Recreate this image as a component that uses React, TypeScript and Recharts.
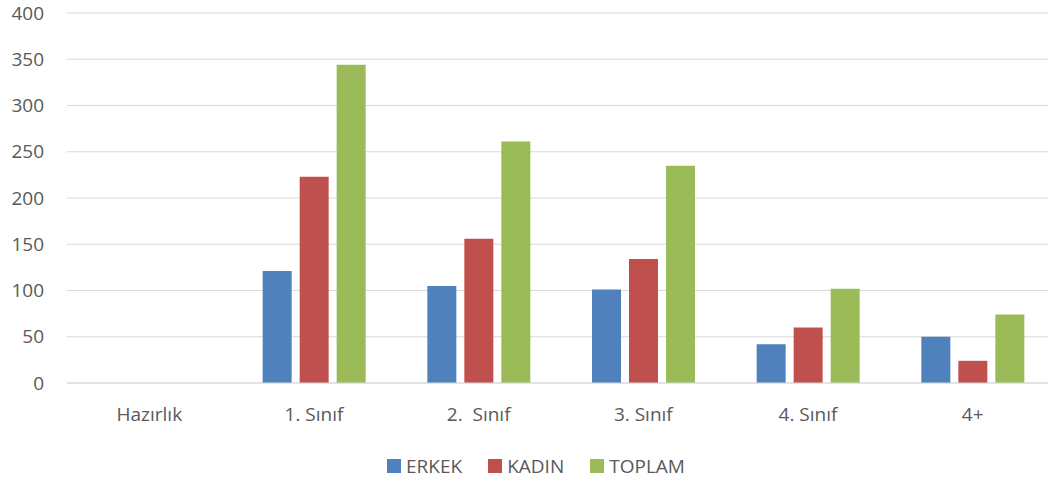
import { BarChart, Bar, XAxis, YAxis, CartesianGrid, Legend } from "recharts";

const categories = ["Hazırlık", "1. Sınıf", "2.  Sınıf", "3. Sınıf", "4. Sınıf", "4+"];
const erkek = [0, 121, 105, 101, 42, 50];
const kadin = [0, 223, 156, 134, 60, 24];
const toplam = [0, 344, 261, 235, 102, 74];
const yTicks = [0, 50, 100, 150, 200, 250, 300, 350, 400];

const data = categories.map((name, i) => ({
  name,
  ERKEK: erkek[i],
  KADIN: kadin[i],
  TOPLAM: toplam[i],
}));

const font = "'Open Sans', sans-serif";
const textColor = "#595959";

function LegendBox(props: any) {
  const items = props.payload || [];
  return (
    <div style={{ display: "flex", justifyContent: "center", alignItems: "center", fontSize: 19, color: textColor, height: 26 }}>
      {items.map((it: any, i: number) => (
        <div key={it.value} style={{ display: "flex", alignItems: "center", marginRight: i < items.length - 1 ? 26 : 0 }}>
          <span style={{ width: 14, height: 14, background: it.color, display: "inline-block", marginRight: 5 }} />
          <span>{it.value}</span>
        </div>
      ))}
    </div>
  );
}

export default function App() {
  return (
    <div style={{ position: "absolute", left: 0, top: 0, background: "#fff", overflow: "hidden", width: 1048, height: 487 }}>
      <BarChart
        width={1048}
        height={487}
        data={data}
        margin={{ top: 13, right: -7, left: 0, bottom: 12 }}
        barSize={29}
        barGap={8}
        style={{ fontFamily: font }}
      >
        <CartesianGrid vertical={false} stroke="#d9d9d9" strokeWidth={1.2} />
        <XAxis
          dataKey="name"
          height={52}
          tickLine={false}
          axisLine={{ stroke: "#d9d9d9", strokeWidth: 1.2 }}
          tickMargin={19}
          tickFormatter={(v: string) => v.replace(/  /g, " \u00a0")}
          tick={{ fontSize: 19, fill: textColor }}
        />
        <YAxis
          width={67}
          domain={[0, 400]}
          ticks={yTicks}
          tickLine={false}
          axisLine={false}
          tickMargin={17}
          tick={{ fontSize: 19, fill: textColor }}
        />
        <Legend
          verticalAlign="bottom"
          height={40}
          content={<LegendBox />}
          wrapperStyle={{ top: 453, bottom: "auto", left: 12, width: 1048 }}
        />
        <Bar dataKey="ERKEK" fill="#4f81bd" isAnimationActive={false} />
        <Bar dataKey="KADIN" fill="#c0504d" isAnimationActive={false} />
        <Bar dataKey="TOPLAM" fill="#9bbb59" isAnimationActive={false} />
      </BarChart>
    </div>
  );
}
